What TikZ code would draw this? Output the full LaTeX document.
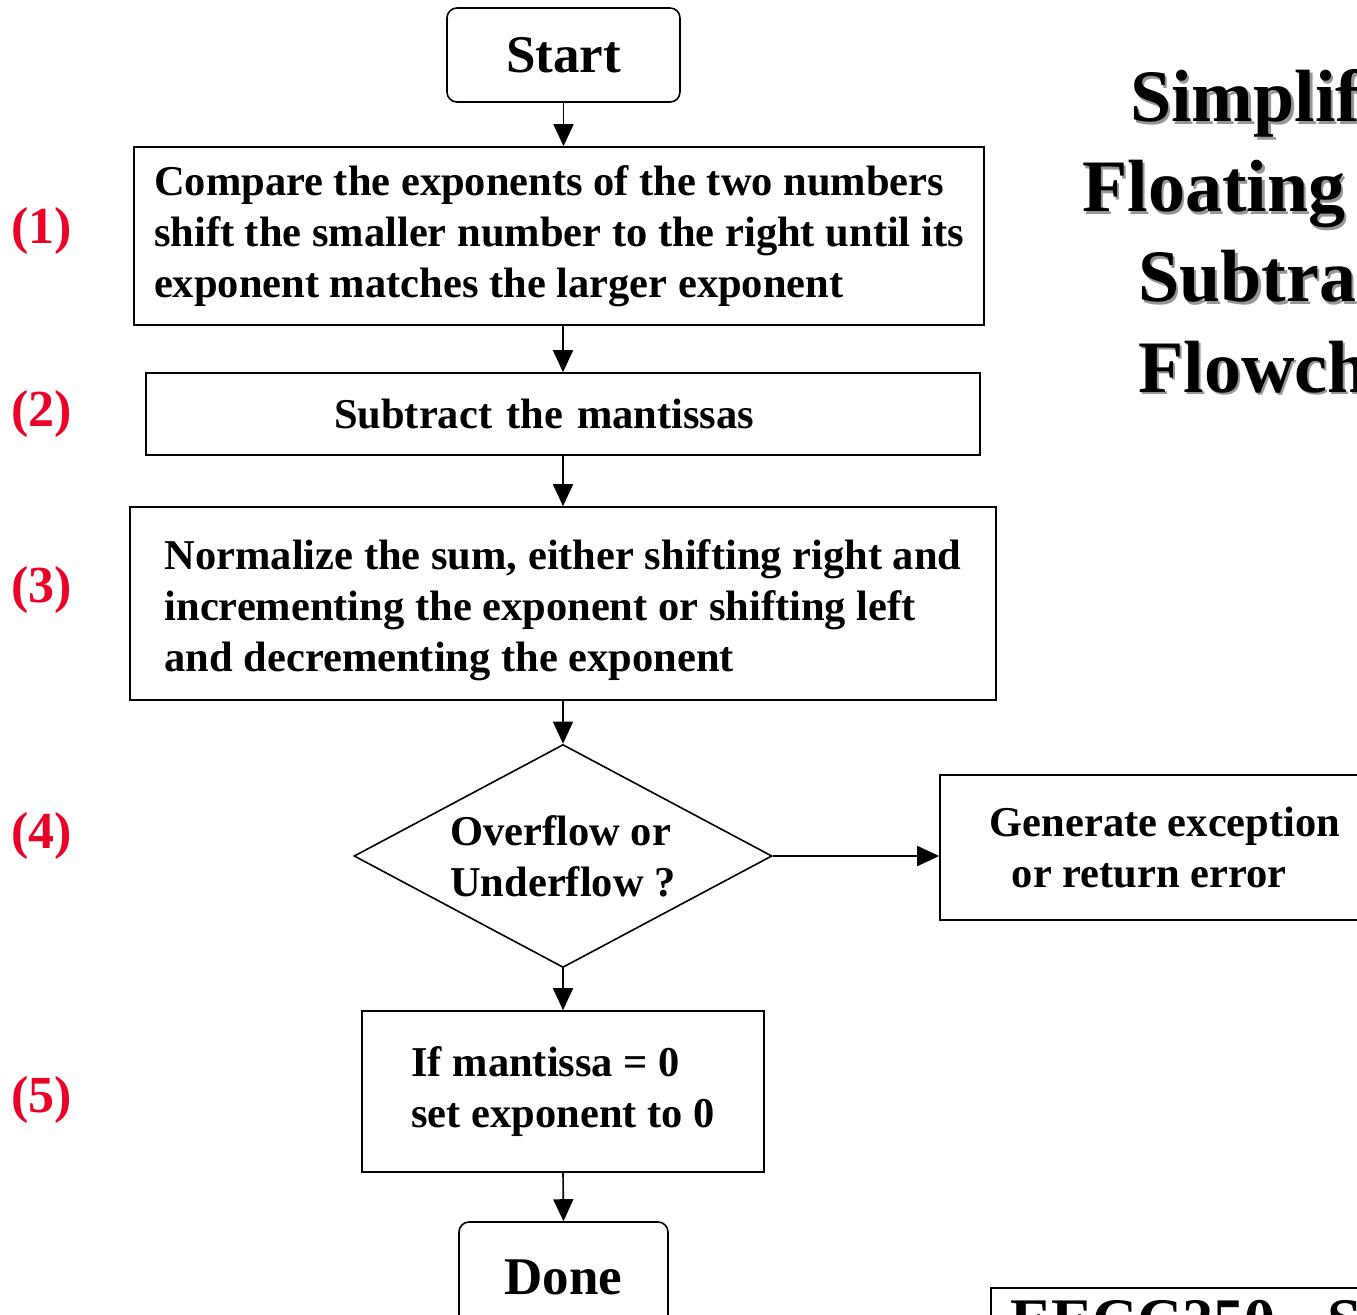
\documentclass[tikz,border=0pt]{standalone}
\usepackage{fontspec}
\setmainfont{Liberation Serif}
\usetikzlibrary{shapes.geometric,arrows.meta}
\definecolor{labred}{RGB}{235,0,40}
\definecolor{shadowgray}{RGB}{150,150,150}
\newcommand\bodyfont{\bfseries\fontsize{42.5bp}{51bp}\selectfont}
\newcommand\termfont{\bfseries\fontsize{53bp}{60bp}\selectfont}
\newcommand\titlefont{\bfseries\fontsize{74bp}{90bp}\selectfont}
\newcommand\labfont{\bfseries\fontsize{52bp}{58bp}\selectfont}
\tikzset{
  box/.style={draw, line width=1.6bp, inner sep=0pt, font=\bodyfont, align=left},
  plainbox/.style={draw, line width=1.6bp, inner sep=0pt, font=\bodyfont},
  termbox/.style={draw, line width=1.6bp, inner sep=0pt, rounded corners=10bp, font=\termfont},
  decision/.style={draw, line width=1.6bp, inner sep=0pt, diamond, aspect=1.87, font=\bodyfont, align=left},
  arr/.style={line width=1.6bp, -{Triangle[length=22bp,width=20bp]}},
  steplabel/.style={font=\labfont, text=labred, inner sep=0pt},
  titleline/.style={font=\titlefont, anchor=base west, inner sep=0pt},
  titleshadow/.style={titleline, text=shadowgray},
}
\begin{document}
\begin{tikzpicture}[x=1bp,y=-1bp]
\useasboundingbox[fill=white] (0,0) rectangle (1357,1315);

% title
\node[titleshadow] (t1s) at (1132.5,124.5) {Simplified};
\node[titleline] (t1) at (1130,122) {Simplified};
\node[titleshadow] (t2s) at (1084.5,214.5) {Floating Point};
\node[titleline] (t2) at (1082,212) {Floating Point};
\node[titleshadow] (t3s) at (1140.5,304.5) {Subtraction};
\node[titleline] (t3) at (1138,302) {Subtraction};
\node[titleshadow] (t4s) at (1140.5,394.5) {Flowchart};
\node[titleline] (t4) at (1138,392) {Flowchart};

% step labels
\node[steplabel] (l1) at (42,231) {(1)};
\node[steplabel] (l2) at (42,414) {(2)};
\node[steplabel] (l3) at (42,590) {(3)};
\node[steplabel] (l4) at (42,836) {(4)};
\node[steplabel] (l5) at (42,1100) {(5)};

% flowchart
\node[termbox, minimum width=233bp, minimum height=94bp] (start) at (563.5,55) {Start};
\node[box, minimum width=850bp, minimum height=178bp] (s1) at (559,236)
  {Compare the exponents of the two numbers\\shift the smaller number to the right until its\\exponent matches the larger exponent};
\node[box, minimum width=834bp, minimum height=82bp, text width=458bp] (s2) at (563,414)
  {Subtract the mantissas};
\node[plainbox, minimum width=866bp, minimum height=193bp] (s3) at (563,603.5)
  {\raisebox{-7bp}[\height][\depth]{\begin{tabular}{@{}l@{}}Normalize the sum, either shifting right and\\incrementing the exponent or shifting left\\and decrementing the exponent\end{tabular}}};
\node[decision, minimum width=418bp, minimum height=223bp] (d) at (563,856)
  {Overflow or\\Underflow ?};
\node[box, minimum width=450bp, minimum height=145bp] (ex) at (1165,847.5)
  {Generate exception\\\hspace*{22bp}or return error};
\node[box, minimum width=402bp, minimum height=161bp] (s5) at (563,1091.5)
  {If mantissa = 0\\set exponent to 0};
\node[termbox, minimum width=209bp, minimum height=110bp] (done) at (563.5,1277) {Done};

% footer box (cut by page edge)
\node[draw, line width=1.6bp, inner sep=0pt, anchor=north west, minimum width=450bp, minimum height=120bp] (footer) at (990,1287) {};
\node[font=\bfseries\fontsize{62bp}{70bp}\selectfont, anchor=base west, inner sep=0pt] (footertext) at (1010,1341) {EECC250 - S};

% connectors
\draw[arr] (start.south) -- (start.south |- s1.north);
\draw[arr] (s2.north |- s1.south) -- (s2.north);
\draw[arr] (s2.south) -- (s3.north);
\draw[arr] (s3.south) -- (d.north);
\draw[arr] (d.south) -- (s5.north);
\draw[arr] (s5.south) -- (done.north);
\draw[arr] (d.east) -- (d.east -| ex.west);
\end{tikzpicture}
\end{document}
